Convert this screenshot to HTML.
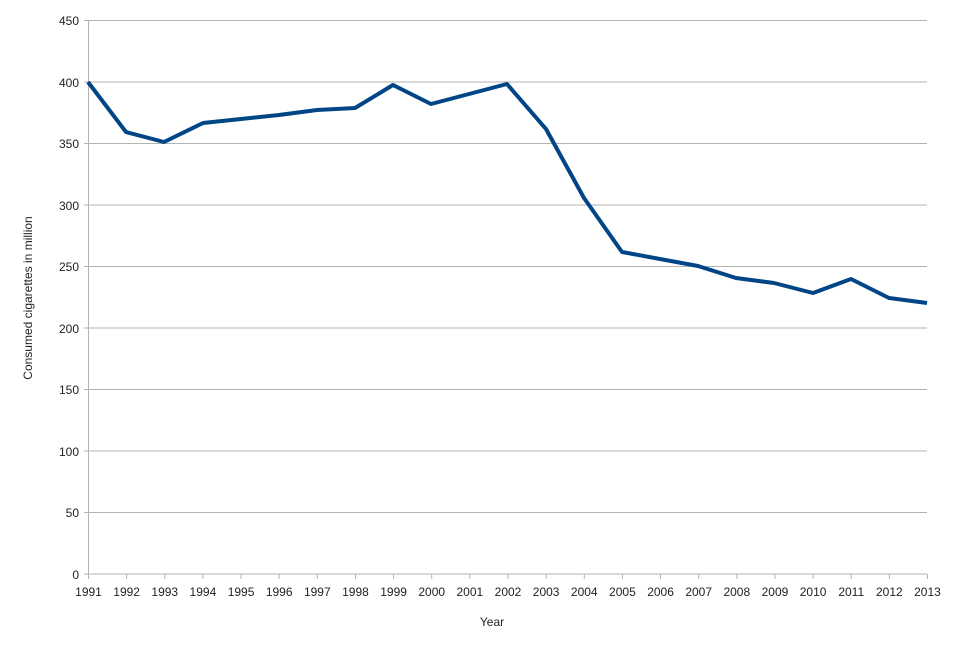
<!DOCTYPE html>
<html><head><meta charset="utf-8"><style>
html,body{margin:0;padding:0;background:#fff;}
svg{display:block;font-family:"Liberation Sans",sans-serif;}
</style></head><body>
<svg width="960" height="649" viewBox="0 0 960 649" xmlns="http://www.w3.org/2000/svg">
<g stroke="#b3b3b3" stroke-width="1">
<line x1="84" y1="20.5" x2="927" y2="20.5"/>
<line x1="84" y1="82" x2="927" y2="82"/>
<line x1="84" y1="143.5" x2="927" y2="143.5"/>
<line x1="84" y1="205" x2="927" y2="205"/>
<line x1="84" y1="266.5" x2="927" y2="266.5"/>
<line x1="84" y1="328" x2="927" y2="328"/>
<line x1="84" y1="389.5" x2="927" y2="389.5"/>
<line x1="84" y1="451" x2="927" y2="451"/>
<line x1="84" y1="512.5" x2="927" y2="512.5"/>
<line x1="84" y1="574" x2="927" y2="574"/>
<line x1="88.5" y1="20" x2="88.5" y2="578"/>
</g>
<g stroke="#b3b3b3" stroke-width="1" id="xt"></g>
<g font-size="12" fill="#222" text-anchor="end">
<text x="79" y="25">450</text><text x="79" y="87">400</text><text x="79" y="148">350</text>
<text x="79" y="210">300</text><text x="79" y="271">250</text><text x="79" y="333">200</text>
<text x="79" y="394">150</text><text x="79" y="456">100</text><text x="79" y="517">50</text>
<text x="79" y="579">0</text>
</g>
<g id="xl" font-size="12" fill="#222" text-anchor="middle"></g>
<text x="492" y="626" font-size="12" fill="#222" text-anchor="middle">Year</text>
<text transform="translate(32,298) rotate(-90)" font-size="12" fill="#222" text-anchor="middle">Consumed cigarettes in million</text>
<polyline fill="none" stroke="#004586" stroke-width="4" stroke-linejoin="round" points="88,82 126,132 164,142 203,123 241,119 279,115 317,110 355,108 393,85 431,104 469,94 507,84 546,129 584,198 622,252 660,259 698,266 736,278 774,283 813,293 851,279 889,298 927,303"/>
<script>
var t=document.getElementById('xt'),l=document.getElementById('xl'),ns='http://www.w3.org/2000/svg';
for(var i=0;i<=22;i++){var x=88.5+i*38.136;
var ln=document.createElementNS(ns,'line');ln.setAttribute('x1',x);ln.setAttribute('x2',x);ln.setAttribute('y1',574);ln.setAttribute('y2',579);t.appendChild(ln);
var tx=document.createElementNS(ns,'text');tx.setAttribute('x',x);tx.setAttribute('y',596);tx.textContent=1991+i;l.appendChild(tx);}
</script>
</svg>
</body></html>
